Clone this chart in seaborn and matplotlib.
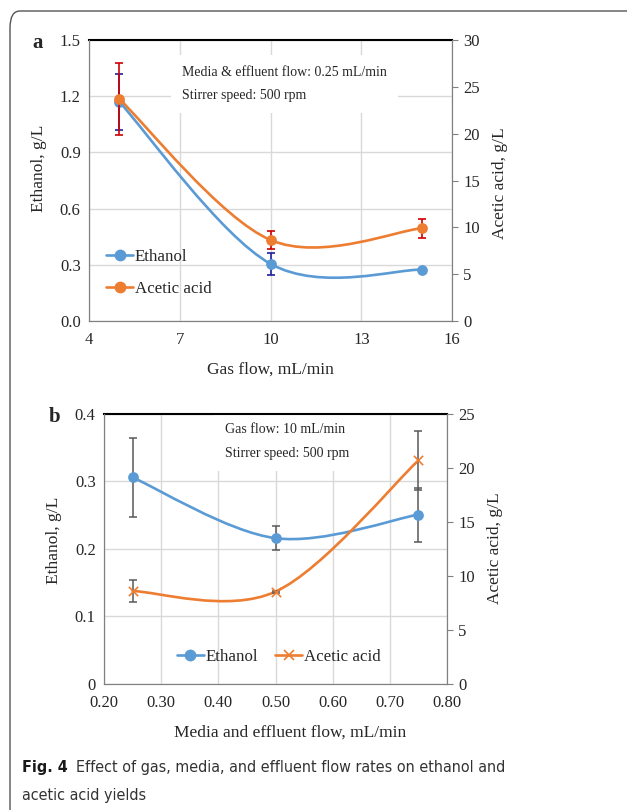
import numpy as np
import matplotlib
matplotlib.use("Agg")
import matplotlib.pyplot as plt
import seaborn as sns
from matplotlib import font_manager
from matplotlib.path import Path
from matplotlib.patches import PathPatch, FancyBboxPatch
from matplotlib.lines import Line2D

# panel a: gas flow
gas_flow = [5, 10, 15]
etoh_a = [1.17, 0.305, 0.274]
etoh_a_err = [0.15, 0.058, 0.0]
acet_a = [23.7, 8.65, 9.9]
acet_a_err = [3.8, 1.0, 1.0]

# panel b: media and effluent flow
media_flow = [0.25, 0.50, 0.75]
etoh_b = [0.306, 0.216, 0.251]
etoh_b_err = [0.058, 0.018, 0.040]
acet_b = [8.6, 8.55, 20.7]
acet_b_err = [1.0, 0.1, 2.7]

BLUE = "#5B9BD5"
ORANGE = "#ED7D31"
GRID = "#D9D9D9"
SPINE = "#808080"

sns.set_style("white")
plt.rcParams["font.family"] = ["Liberation Serif", "DejaVu Serif"]

TICK = 12
LABEL = 12.5
LEG = 12.2


def smooth_line(ax, x, y, color):
    # excel-like smoothed line (catmull-rom as bezier segments)
    pts = np.column_stack([x, y]).astype(float)
    n = len(pts)
    verts = [pts[0]]
    codes = [Path.MOVETO]
    for i in range(n - 1):
        p0 = pts[max(i - 1, 0)]
        p1 = pts[i]
        p2 = pts[i + 1]
        p3 = pts[min(i + 2, n - 1)]
        verts += [p1 + (p2 - p0) / 6, p2 - (p3 - p1) / 6, p2]
        codes += [Path.CURVE4] * 3
    ax.add_patch(PathPatch(Path(verts, codes), fill=False, edgecolor=color,
                           lw=1.9, zorder=3, capstyle="round"))


def style_axes(ax, ax2):
    ax.grid(True, color=GRID, lw=1.0)
    ax.set_axisbelow(True)
    for s in ["left", "bottom", "right"]:
        ax.spines[s].set_color(SPINE)
        ax2.spines[s].set_color(SPINE)
    ax.spines["top"].set_color("black")
    ax.spines["top"].set_linewidth(1.5)
    ax2.spines["top"].set_visible(False)
    ax.tick_params(axis="both", length=0, labelsize=TICK, pad=6)
    ax.tick_params(axis="x", pad=8)
    ax2.tick_params(axis="y", length=4, color=SPINE, labelsize=TICK, pad=4)


fig = plt.figure(figsize=(6.27, 8.10), dpi=100)

# ---------------- panel a ----------------
ax = fig.add_axes([0.142, 0.6037, 0.579, 0.3469])
ax2 = ax.twinx()

ax.errorbar(gas_flow, etoh_a, yerr=etoh_a_err, fmt="none", ecolor="#1F1FA0",
            elinewidth=1.2, capsize=3, capthick=1.2, zorder=4)
ax2.errorbar(gas_flow, acet_a, yerr=acet_a_err, fmt="none", ecolor="#D00000",
             elinewidth=1.2, capsize=3, capthick=1.2, zorder=4)
smooth_line(ax, gas_flow, etoh_a, BLUE)
smooth_line(ax2, gas_flow, acet_a, ORANGE)
sns.scatterplot(x=gas_flow, y=etoh_a, ax=ax, color=BLUE, s=60, edgecolor=BLUE,
                linewidth=0, zorder=5)
sns.scatterplot(x=gas_flow, y=acet_a, ax=ax2, color=ORANGE, s=60, edgecolor=ORANGE,
                linewidth=0, zorder=5)

ax.set_xlim(4, 16)
ax.set_xticks([4, 7, 10, 13, 16])
ax.set_ylim(0, 1.5)
ax.set_yticks(np.arange(0, 1.51, 0.3))
ax.set_yticklabels([f"{v:.1f}" for v in np.arange(0, 1.51, 0.3)])
ax2.set_ylim(0, 30)
ax2.set_yticks(range(0, 31, 5))
style_axes(ax, ax2)

ax.set_xlabel("Gas flow, mL/min", fontsize=LABEL)
ax.xaxis.set_label_coords(0.5, -0.146)
ax.set_ylabel("Ethanol, g/L", fontsize=LABEL)
ax.yaxis.set_label_coords(-0.116, 0.544)
ax2.set_ylabel("Acetic acid, g/L", fontsize=LABEL, rotation=90)
ax2.yaxis.set_label_coords(1.110, 0.49)

ax.text(0.256, 0.843, "Media & effluent flow: 0.25 mL/min\nStirrer speed: 500 rpm",
        transform=ax.transAxes, fontsize=10, linespacing=2.05, va="center",
        ha="left", zorder=2,
        bbox=dict(facecolor="white", edgecolor="none", pad=8))

handles_a = [Line2D([], [], color=BLUE, lw=1.9, marker="o", ms=7.5),
             Line2D([], [], color=ORANGE, lw=1.9, marker="o", ms=7.5)]
ax.legend(handles_a, ["Ethanol", "Acetic acid"], loc="center left",
          bbox_to_anchor=(0.047, 0.171), frameon=False, fontsize=LEG,
          handlelength=1.6, handletextpad=0.1, labelspacing=0.95,
          borderpad=0, borderaxespad=0)

fig.text(38 / 627, 1 - 43 / 810, "a", fontsize=15, fontweight="bold",
         ha="center", va="center")

# ---------------- panel b ----------------
bx = fig.add_axes([0.1659, 0.1556, 0.547, 0.3333])
bx2 = bx.twinx()

bx.errorbar(media_flow, etoh_b, yerr=etoh_b_err, fmt="none", ecolor="#595959",
            elinewidth=1.1, capsize=3, capthick=1.1, zorder=4)
bx2.errorbar(media_flow, acet_b, yerr=acet_b_err, fmt="none", ecolor="#595959",
             elinewidth=1.1, capsize=3, capthick=1.1, zorder=4)
smooth_line(bx, media_flow, etoh_b, BLUE)
smooth_line(bx2, media_flow, acet_b, ORANGE)
sns.scatterplot(x=media_flow, y=etoh_b, ax=bx, color=BLUE, s=60, edgecolor=BLUE,
                linewidth=0, zorder=5)
sns.scatterplot(x=media_flow, y=acet_b, ax=bx2, color=ORANGE, marker="x", s=45,
                linewidth=1.2, zorder=5)

bx.set_xlim(0.2, 0.8)
xt = np.arange(0.2, 0.81, 0.1)
bx.set_xticks(xt)
bx.set_xticklabels([f"{v:.2f}" for v in xt])
bx.set_ylim(0, 0.4)
yt = np.arange(0, 0.41, 0.1)
bx.set_yticks(yt)
bx.set_yticklabels(["0"] + [f"{v:.1f}" for v in yt[1:]])
bx2.set_ylim(0, 25)
bx2.set_yticks(range(0, 26, 5))
style_axes(bx, bx2)

bx.set_xlabel("Media and effluent flow, mL/min", fontsize=LABEL)
bx.xaxis.set_label_coords(0.542, -0.152)
bx.set_ylabel("Ethanol, g/L", fontsize=LABEL)
bx.yaxis.set_label_coords(-0.122, 0.533)
bx2.set_ylabel("Acetic acid, g/L", fontsize=LABEL, rotation=90)
bx2.yaxis.set_label_coords(1.117, 0.504)

bx.text(0.353, 0.898, "Gas flow: 10 mL/min\nStirrer speed: 500 rpm",
        transform=bx.transAxes, fontsize=10, linespacing=2.05, va="center",
        ha="left", zorder=2,
        bbox=dict(facecolor="white", edgecolor="none", pad=8))

handles_b = [Line2D([], [], color=BLUE, lw=1.9, marker="o", ms=7.5),
             Line2D([], [], color=ORANGE, lw=1.9, marker="x", ms=7, mew=1.2)]
bx.legend(handles_b, ["Ethanol", "Acetic acid"], loc="center",
          bbox_to_anchor=(0.509, 0.10), frameon=False, fontsize=LEG, ncol=2,
          handlelength=1.6, handletextpad=0.1, columnspacing=1.0,
          borderpad=0, borderaxespad=0)

fig.text(55 / 627, 1 - 417 / 810, "b", fontsize=15, fontweight="bold",
         ha="center", va="center")

# ---------------- caption and frame ----------------
names = {f.name for f in font_manager.fontManager.ttflist}
cap_family = "Roboto" if "Roboto" in names else "DejaVu Sans"
cap_stretch = "normal"
for f in font_manager.fontManager.ttflist:
    if "Condensed" in f.name or "Narrow" in f.name:
        cap_family = f.name
        break
    if f.stretch == "condensed" and f.name in ("Roboto", "Open Sans", "Noto Sans",
                                                "DejaVu Sans"):
        cap_family, cap_stretch = f.name, "condensed"
        break

t1 = fig.text(22 / 627, 1 - 772 / 810, "Fig. 4", fontsize=13.5, fontweight="bold",
              family=cap_family, fontstretch=cap_stretch, color="#1a1a1a",
              va="baseline")
t2 = bx.annotate("Effect of gas, media, and effluent flow rates on ethanol and",
                 xy=(1, 0), xycoords=t1, xytext=(6, 0), textcoords="offset points",
                 fontsize=13.5, family=cap_family, fontstretch=cap_stretch,
                 color="#333333", va="bottom", annotation_clip=False)
t3 = fig.text(22 / 627, 1 - 800 / 810, "acetic acid yields", fontsize=13.5,
              family=cap_family, fontstretch=cap_stretch, color="#333333",
              va="baseline")

# fit the first caption line to the width it has in the figure
fig.canvas.draw()
r = fig.canvas.get_renderer()
right = t2.get_window_extent(r).x1
scale = (505 - 22) / (right - 22)
for t in (t1, t2, t3):
    t.set_fontsize(13.5 * scale)

frame = FancyBboxPatch((10 / 627, -0.05), 1.2, 1 - 11 / 810 + 0.05,
                       boxstyle="round,pad=0,rounding_size=0.016",
                       transform=fig.transFigure, fill=False,
                       edgecolor="#555555", lw=1.0, mutation_aspect=810 / 627)
fig.add_artist(frame)

fig.savefig("out.png", dpi=100)
